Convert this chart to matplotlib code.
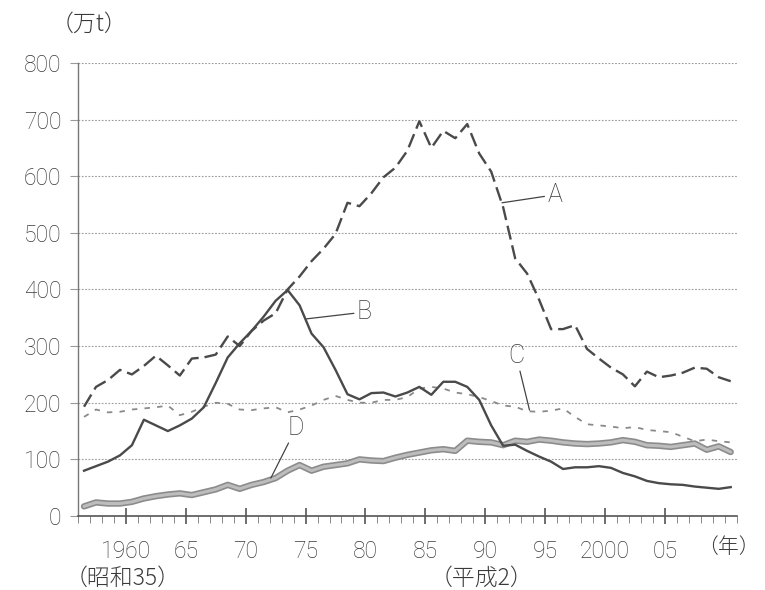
import numpy as np
import matplotlib
matplotlib.use("Agg")
import matplotlib.pyplot as plt
from matplotlib.ticker import MultipleLocator

plt.rcParams['font.family'] = ['Roboto', 'Noto Sans CJK JP', 'DejaVu Sans']
plt.rcParams['font.weight'] = 'light'

years = list(range(1956, 2011))

# A: offshore, B: distant-water, C: coastal, D: marine aquaculture (万t)
a_vals = [193, 228, 240, 258, 250, 265, 283, 266, 248, 278,
          280, 285, 317, 300, 327, 345, 358, 400, 423, 450,
          472, 498, 553, 547, 570, 598, 615, 645, 697, 650,
          680, 667, 692, 640, 608, 545, 455, 428, 382, 330,
          330, 337, 295, 278, 262, 250, 229, 255, 245, 248,
          253, 262, 260, 245, 238]
b_vals = [80, 88, 96, 107, 125, 170, 160, 150, 160, 172,
          192, 235, 280, 305, 327, 352, 380, 399, 372, 322,
          298, 258, 215, 206, 217, 218, 211, 218, 228, 214,
          237, 237, 228, 205, 160, 124, 126, 115, 105, 96,
          83, 86, 86, 88, 85, 76, 70, 62, 58, 56,
          55, 52, 50, 48, 51]
c_vals = [175, 188, 183, 184, 188, 190, 192, 195, 178, 184,
          193, 200, 198, 188, 187, 190, 192, 183, 188, 195,
          205, 212, 205, 200, 200, 205, 205, 210, 225, 228,
          225, 218, 215, 210, 203, 195, 193, 185, 184, 186,
          190, 175, 162, 160, 158, 155, 157, 152, 150, 148,
          140, 132, 135, 132, 130]
d_vals = [17, 24, 22, 22, 25, 31, 35, 38, 40, 37,
          42, 47, 55, 48, 55, 60, 67, 80, 90, 80,
          87, 90, 93, 100, 98, 97, 103, 108, 112, 116,
          118, 115, 133, 131, 130, 125, 133, 131, 135, 133,
          130, 128, 127, 128, 130, 134, 131, 125, 124, 122,
          125, 128, 117, 123, 113]

major_ticks = [1960, 1965, 1970, 1975, 1980, 1985, 1990, 1995, 2000, 2005]
major_labels = ['1960', '65', '70', '75', '80', '85', '90', '95', '2000', '05']
y_ticks = [0, 100, 200, 300, 400, 500, 600, 700, 800]

txt = '#3a3a3a'
fs = 16.5
x = np.array(years) + 0.5   # each year drawn at its middle

fig = plt.figure(figsize=(7.65, 5.90), dpi=100)
ax = fig.add_axes([0.102, 0.1254, 0.861, 0.768])

# grid
for v in y_ticks:
    ax.axhline(v, color='#9a9a9a', lw=0.8, ls=(0, (1.5, 1.5)), zorder=0)

# D: thick grey band
ax.plot(x, d_vals, color='#8c8c8c', lw=4.6, solid_capstyle='round', zorder=2)
ax.plot(x, d_vals, color='#bdbdbd', lw=2.2, solid_capstyle='round', zorder=2)
# C: light short dashes
ax.plot(x, c_vals, color='#8a8a8a', lw=1.3, ls=(0, (3, 4)), zorder=3)
# B: solid
ax.plot(x, b_vals, color='#4a4a4a', lw=1.7, zorder=4)
# A: long dashes
ax.plot(x, a_vals, color='#4a4a4a', lw=1.7, ls=(0, (6, 2.5)), zorder=5)

ax.set_xlim(1956, 2011)
ax.set_ylim(0, 800)
for s in ['top', 'right']:
    ax.spines[s].set_visible(False)
ax.spines['left'].set_color('#777777')
ax.spines['left'].set_linewidth(1.0)
ax.spines['bottom'].set_color('#555555')
ax.spines['bottom'].set_linewidth(1.2)

ax.set_yticks(y_ticks)
ax.tick_params(axis='y', length=6, width=0.8, color='#9a9a9a', labelsize=fs,
               labelcolor=txt, pad=6)
ax.set_xticks(major_ticks)
ax.set_xticklabels(major_labels)
ax.xaxis.set_minor_locator(MultipleLocator(1))
ax.tick_params(axis='x', which='major', direction='inout', length=12, width=1.2,
               color='#555555', labelsize=fs, labelcolor=txt, pad=11)
ax.tick_params(axis='x', which='minor', direction='out', length=5, width=0.7,
               color='#888888')

# extra axis texts
jp = ['Noto Sans CJK JP', 'DejaVu Sans']
fig.text(123 / 765, 1 - 578 / 590, '（昭和35）', ha='center', va='center',
         fontsize=fs, color=txt, family=jp)
fig.text(482 / 765, 1 - 578 / 590, '（平成2）', ha='center', va='center',
         fontsize=fs, color=txt, family=jp)
fig.text(760 / 765, 1 - 547 / 590, '（年）', ha='right', va='center',
         fontsize=15, color=txt, family=jp)
fig.text(89 / 765, 1 - 24 / 590, '（万t）', ha='center', va='center',
         fontsize=fs, color=txt, family=jp)

# series labels with leader lines
lab = dict(fontsize=18, color=txt, ha='center', va='center')
lk = dict(arrowstyle='-', color='#444444', lw=0.9, shrinkA=0, shrinkB=0)
ax.annotate('A', xy=(1991.4, 553), xytext=(1995.8, 567), arrowprops=lk, **lab)
ax.annotate('B', xy=(1975.05, 348), xytext=(1979.9, 360), arrowprops=lk, **lab)
ax.annotate('C', xy=(1993.7, 187), xytext=(1992.6, 282), arrowprops=lk, **lab)
ax.annotate('D', xy=(1972.1, 67), xytext=(1974.2, 155), arrowprops=lk, **lab)

fig.savefig('out.png', dpi=100)
